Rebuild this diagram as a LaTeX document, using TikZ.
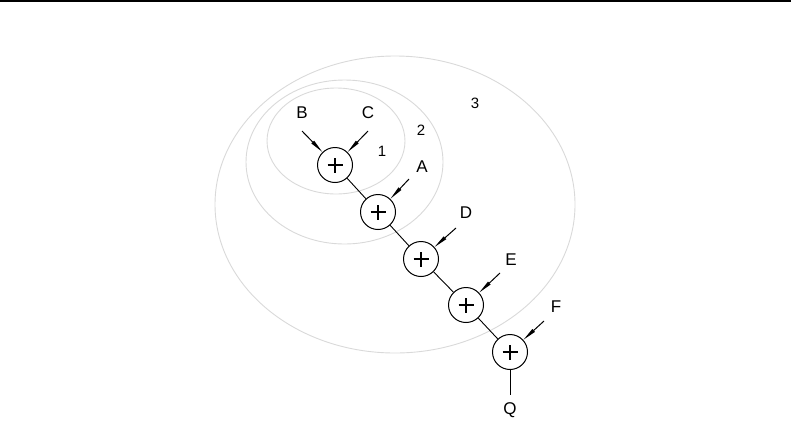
\documentclass[tikz,border=0pt]{standalone}
\usepackage{fontspec}
\setmainfont{Liberation Sans}
\usepackage{tikz}
\usetikzlibrary{arrows.meta}

\tikzset{
  adder/.style={draw, circle, line width=1pt, minimum size=35pt, inner sep=0pt,
    path picture={\draw[line width=1.1pt] ([xshift=-7.5pt]path picture bounding box.center) -- ([xshift=7.5pt]path picture bounding box.center)
      ([yshift=-7.5pt]path picture bounding box.center) -- ([yshift=7.5pt]path picture bounding box.center);}},
  inlabel/.style={font=\fontsize{17}{20}\selectfont},
  ringlabel/.style={font=\fontsize{15}{18}\selectfont},
  feed/.style={line width=1pt, -{Triangle[length=14pt,width=3.6pt]}},
  chain/.style={line width=0.9pt},
  ring/.style={gray!30, line width=0.9pt}
}

\begin{document}
\begin{tikzpicture}[x=1pt, y=-1pt]
    % 1. Rahmen und Linie oben
    \useasboundingbox (0,0) rectangle (791,424);
    \draw[line width=1.5pt] (0,0.75) -- (791,0.75);

    % 2. Ellipsen (Gruppen 1, 2, 3)
    \draw[ring] (336,141) ellipse [x radius=69, y radius=53];
    \draw[ring] (344.5,162) ellipse [x radius=98.5, y radius=82];
    \draw[ring] (395,204.5) ellipse [x radius=180, y radius=148.5];
    \node[ringlabel] (n1) at (382,151) {1};
    \node[ringlabel] (n2) at (421,130) {2};
    \node[ringlabel] (n3) at (475,103) {3};

    % 3. Addierer
    \node[adder] (s1) at (335,165) {};
    \node[adder] (s2) at (378,212) {};
    \node[adder] (s3) at (421,259) {};
    \node[adder] (s4) at (466,305) {};
    \node[adder] (s5) at (510,352) {};

    % 4. Eingaenge
    \node[inlabel] (B) at (302,113) {B};
    \node[inlabel] (C) at (368,113) {C};
    \node[inlabel] (A) at (422,167) {A};
    \node[inlabel] (D) at (466,213) {D};
    \node[inlabel] (E) at (511,260) {E};
    \node[inlabel] (F) at (556,307) {F};
    \node[inlabel] (Q) at (510,410) {Q};
    \coordinate (b) at (302,131);
    \coordinate (c) at (368,131);
    \coordinate (a) at (409,179);
    \coordinate (d) at (456,228);
    \coordinate (e) at (500,273);
    \coordinate (f) at (544,321);
    \coordinate (q) at (510,395);

    % 5. Verbindungen
    \draw[feed] (b) -- (s1);
    \draw[feed] (c) -- (s1);
    \draw[feed] (a) -- (s2);
    \draw[feed] (d) -- (s3);
    \draw[feed] (e) -- (s4);
    \draw[feed] (f) -- (s5);
    \draw[chain] (s1) -- (s2);
    \draw[chain] (s2) -- (s3);
    \draw[chain] (s3) -- (s4);
    \draw[chain] (s4) -- (s5);
    \draw[chain] (s5) -- (q);
\end{tikzpicture}
\end{document}
